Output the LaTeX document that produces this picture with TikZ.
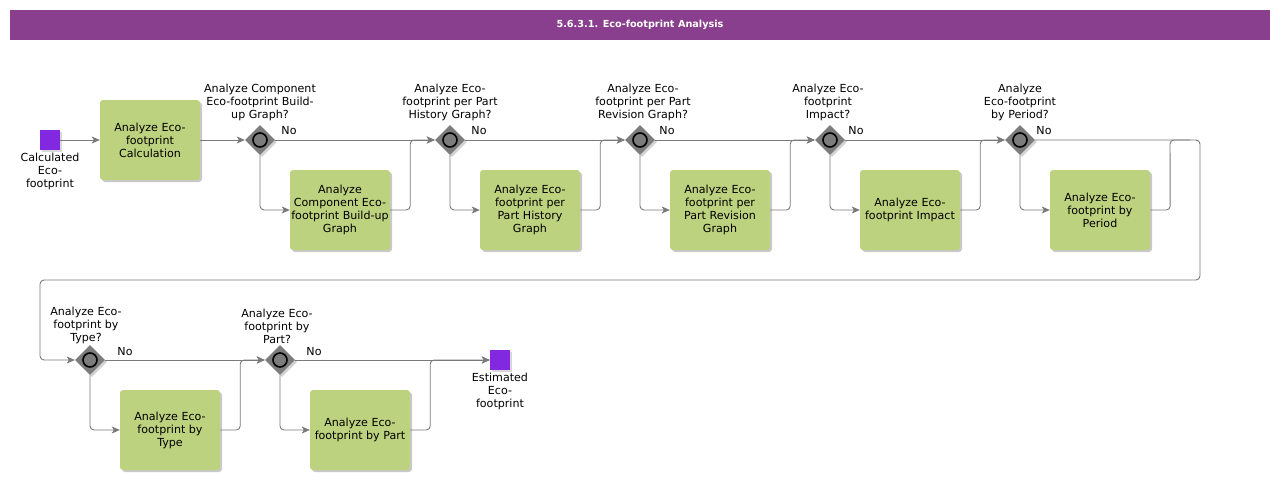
\documentclass[tikz,border=0pt]{standalone}
\usepackage{fontspec}
\setmainfont{DejaVu Sans}
\usetikzlibrary{shapes.geometric,arrows.meta,shadows}
\definecolor{titlebar}{HTML}{8A3F8E}
\definecolor{taskfill}{HTML}{BDD27E}
\definecolor{evfill}{HTML}{8128E0}
\definecolor{conncol}{HTML}{7A7A7A}
\definecolor{gwfill}{HTML}{7C7C7C}
\tikzset{
  task/.style={rectangle, rounded corners=3pt, fill=taskfill, minimum width=100pt, minimum height=80pt,
    align=center, font=\fontsize{11.1}{13}\selectfont, inner sep=1pt,
    drop shadow={shadow xshift=2pt, shadow yshift=-2pt, opacity=0.35, fill=black!60}},
  event/.style={rectangle, fill=evfill, minimum size=20pt, inner sep=0pt,
    drop shadow={shadow xshift=1.5pt, shadow yshift=-1.5pt, opacity=0.3}},
  gw/.style={diamond, fill=gwfill, minimum size=30pt, inner sep=0pt,
    drop shadow={shadow xshift=2pt, shadow yshift=-2pt, opacity=0.35}},
  gwring/.style={circle, draw=black, line width=1.6pt, fill=gwfill, minimum size=14pt, inner sep=0pt},
  lbl/.style={align=center, font=\fontsize{11.1}{13}\selectfont, inner sep=0pt},
  conn/.style={draw=conncol, line width=0.9pt, rounded corners=4pt},
  arr/.style={conn, -{Stealth[length=8pt,width=7pt,inset=2pt]}},
}
\begin{document}
\begin{tikzpicture}[x=1pt,y=-1pt]
\useasboundingbox (0,0) rectangle (1280,480);
\fill[white] (0,0) rectangle (1280,480);
% title
\node[fill=titlebar, minimum width=1260pt, minimum height=30pt, inner sep=0pt,
  text=white, font=\fontsize{9.7}{12}\selectfont\bfseries] (title) at (640,25) {5.6.3.1. Eco-footprint Analysis};

% start
\node[event] (start) at (50,140) {};
\node[lbl, anchor=north] (startl) at (50,153) {Calculated\\Eco-\\footprint};
\node[task] (t1) at (150,140) {Analyze Eco-\\footprint\\Calculation};

% gateways row 1
\foreach \n/\x in {g1/260,g2/450,g3/640,g4/830,g5/1020}{
  \node[gw] (\n) at (\x,140) {};
  \node[gwring] (\n r) at (\x,140) {};
}
\node[lbl, anchor=south] (g1l) at (260,121) {Analyze Component\\Eco-footprint Build-\\up Graph?};
\node[lbl, anchor=south] (g2l) at (450,121) {Analyze Eco-\\footprint per Part\\History Graph?};
\node[lbl, anchor=south] (g3l) at (643,121) {Analyze Eco-\\footprint per Part\\Revision Graph?};
\node[lbl, anchor=south] (g4l) at (828,121) {Analyze Eco-\\footprint\\Impact?};
\node[lbl, anchor=south] (g5l) at (1020,121) {Analyze\\Eco-footprint\\by Period?};
\foreach \n/\x in {n1/289,n2/479,n3/667,n4/856,n5/1044}{
  \node[lbl] (\n) at (\x,131) {No};
}

\node[task] (t2) at (340,210) {Analyze\\Component Eco-\\footprint Build-up\\Graph};
\node[task] (t3) at (530,210) {Analyze Eco-\\footprint per\\Part History\\Graph};
\node[task] (t4) at (720,210) {Analyze Eco-\\footprint per\\Part Revision\\Graph};
\node[task] (t5) at (910,210) {Analyze Eco-\\footprint Impact};
\node[task] (t6) at (1100,210) {Analyze Eco-\\footprint by\\Period};

% row 2
\node[gw] (g6) at (90,360) {};
\node[gwring] (g6r) at (90,360) {};
\node[gw] (g7) at (280,360) {};
\node[gwring] (g7r) at (280,360) {};
\node[lbl, anchor=south] (g6l) at (86,344) {Analyze Eco-\\footprint by\\Type?};
\node[lbl, anchor=south] (g7l) at (277,344) {Analyze Eco-\\footprint by\\Part?};
\node[lbl] (n6) at (125,352) {No};
\node[lbl] (n7) at (314,352) {No};
\node[task] (t7) at (170,430) {Analyze Eco-\\footprint by\\Type};
\node[task] (t8) at (360,430) {Analyze Eco-\\footprint by Part};
\node[event] (end) at (500,360) {};
\node[lbl, anchor=north] (endl) at (500,373) {Estimated\\Eco-\\footprint};

% connectors
\draw[arr] (start) -- (t1);
\draw[arr] (t1) -- (g1);
\draw[arr] (g1) -- (g2);
\draw[arr] (g2) -- (g3);
\draw[arr] (g3) -- (g4);
\draw[arr] (g4) -- (g5);
\draw[arr] (g1.south) |- (t2.west);
\draw[arr] (g2.south) |- (t3.west);
\draw[arr] (g3.south) |- (t4.west);
\draw[arr] (g4.south) |- (t5.west);
\draw[arr] (g5.south) |- (t6.west);
\draw[arr] (t2.east) -- ++(20,0) |- (g2.west);
\draw[arr] (t3.east) -- ++(20,0) |- (g3.west);
\draw[arr] (t4.east) -- ++(20,0) |- (g4.west);
\draw[arr] (t5.east) -- ++(20,0) |- (g5.west);
\draw[conn] (t6.east) -- ++(20,0) -- (1170,140) -- (1190,140);
\draw[arr] (g5.east) -- (1200,140) -- (1200,280) -- (40,280) -- (40,360) -- (g6.west);
\draw[arr] (g6) -- (g7);
\draw[arr] (g7) -- (end);
\draw[arr] (g6.south) |- (t7.west);
\draw[arr] (g7.south) |- (t8.west);
\draw[arr] (t7.east) -- ++(20,0) |- (g7.west);
\draw[arr] (t8.east) -- ++(20,0) |- (end.west);
\end{tikzpicture}
\end{document}
